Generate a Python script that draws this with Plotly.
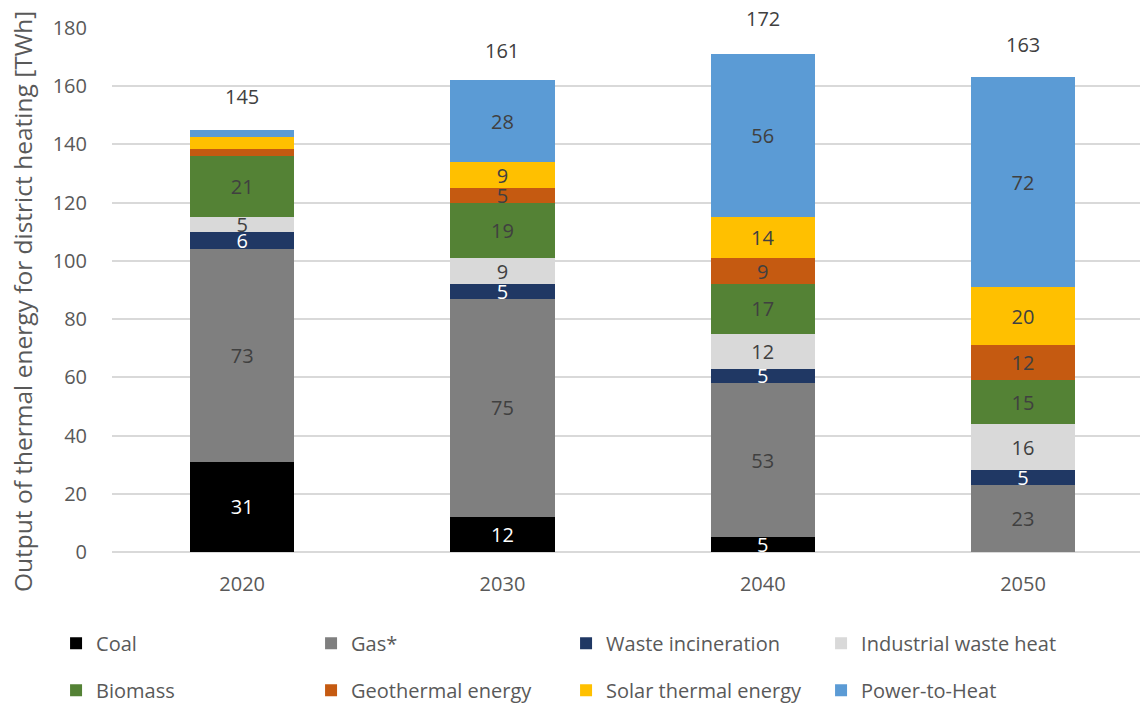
import plotly.graph_objects as go

years = ["2020", "2030", "2040", "2050"]
series_names = ["Coal", "Gas*", "Waste incineration", "Industrial waste heat",
                "Biomass", "Geothermal energy", "Solar thermal energy", "Power-to-Heat"]
coal = [31, 12, 5, 0]
gas = [73, 75, 53, 23]
waste = [6, 5, 5, 5]
industrial = [5, 9, 12, 16]
biomass = [21, 19, 17, 15]
geothermal = [2.5, 5, 9, 12]
solar = [4, 9, 14, 20]
power_to_heat = [2.5, 28, 56, 72]
totals = [145, 161, 172, 163]
y_title = "Output of thermal energy for district heating [TWh]"

series_values = [coal, gas, waste, industrial, biomass, geothermal, solar, power_to_heat]
colors = ["#000000", "#7f7f7f", "#203864", "#d9d9d9", "#548235", "#c55a11", "#ffc000", "#5b9bd5"]
label_colors = ["#ffffff", "#404040", "#ffffff", "#404040", "#404040", "#404040", "#404040", "#404040"]

FONT = "Open Sans"
fig = go.Figure()
for i, (name, vals) in enumerate(zip(series_names, series_values)):
    texts = [f"{v:.0f}" if v >= 5 else "" for v in vals]
    fig.add_trace(go.Bar(
        x=years, y=vals, name=name,
        marker=dict(color=colors[i], line=dict(width=0)),
        text=texts, textposition="inside", insidetextanchor="middle",
        textangle=0, constraintext="none",
        textfont=dict(color=label_colors[i], size=20, family=FONT),
        hoverinfo="x+y+name",
        legend="legend" if i < 4 else "legend2",
    ))

for idx, tot in enumerate(totals):
    fig.add_annotation(x=idx, y=tot, xref="x", yref="y", text=str(tot), showarrow=False,
                       yshift=33, font=dict(size=20, color="#404040", family=FONT))

fig.add_annotation(x=-0.0869, y=0.479, xref="paper", yref="paper", text=y_title,
                   textangle=-90, showarrow=False, xanchor="center", yanchor="middle",
                   font=dict(size=24.5, color="#595959", family=FONT))

legend_common = dict(orientation="h", xanchor="left", yanchor="middle",
                     entrywidth=210, entrywidthmode="pixels",
                     font=dict(size=20, color="#595959", family=FONT),
                     bgcolor="rgba(0,0,0,0)", traceorder="normal")

fig.update_layout(
    width=1148, height=707,
    margin=dict(l=104, r=8, t=20, b=163, autoexpand=False),
    barmode="stack", bargap=0.6,
    plot_bgcolor="white", paper_bgcolor="white",
    font=dict(family=FONT, color="#595959"),
    showlegend=True,
    legend=dict(x=-0.054, y=-0.174, **legend_common),
    legend2=dict(x=-0.054, y=-0.264, **legend_common),
    xaxis=dict(type="category", range=[-0.5, 3.48], showgrid=False, showline=False, ticks="",
               tickfont=dict(size=20, color="#595959", family=FONT),
               ticklabelstandoff=18, automargin=False),
    yaxis=dict(range=[0, 180], dtick=20, showgrid=True, gridcolor="#d9d9d9", gridwidth=1.5,
               zeroline=True, zerolinecolor="#d9d9d9", zerolinewidth=1.5,
               showline=False, ticks="", automargin=False,
               tickfont=dict(size=20, color="#595959", family=FONT),
               ticklabelstandoff=24),
)

fig.write_html("out.html")
